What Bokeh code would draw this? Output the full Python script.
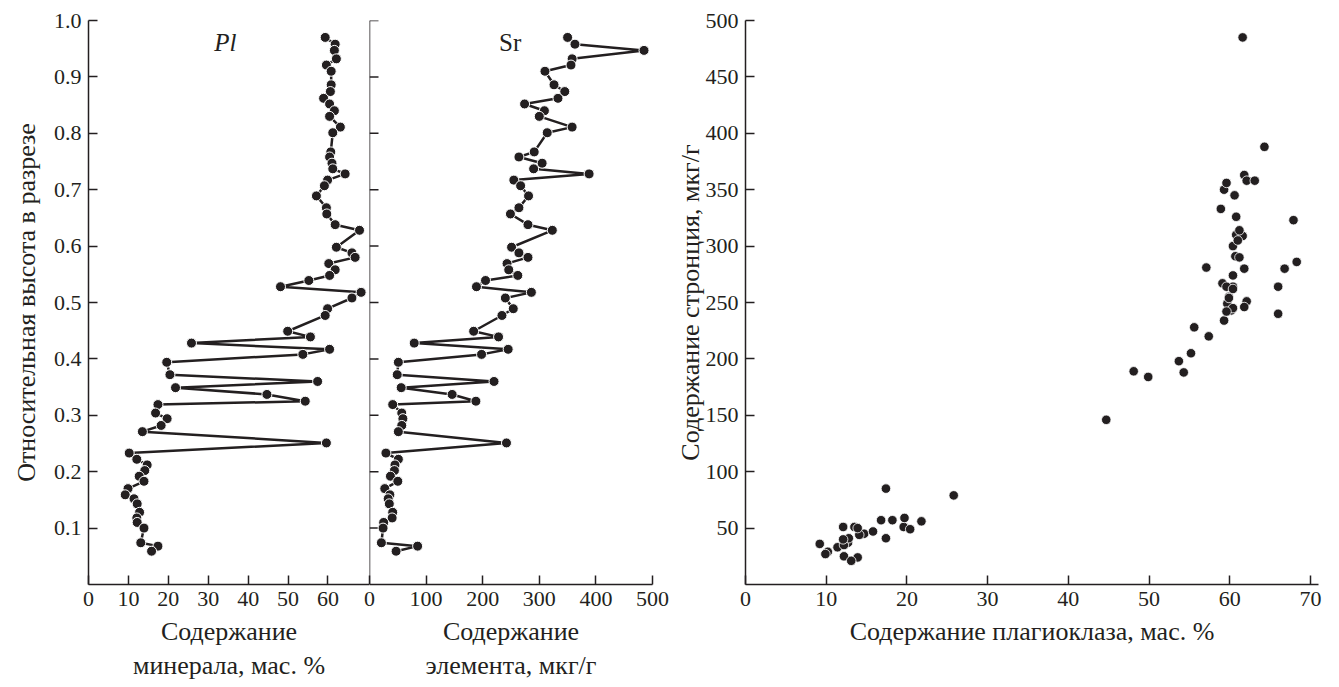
from bokeh.plotting import figure
from bokeh.models import FixedTicker, PrintfTickFormatter, Label, Range1d, Span
from bokeh.layouts import row
from bokeh.embed import file_html
from bokeh.resources import INLINE

# Relative height in section (samples, top to bottom)
heights = [0.970, 0.958, 0.947, 0.932, 0.921, 0.910, 0.886, 0.874, 0.862, 0.852,
           0.840, 0.830, 0.811, 0.801, 0.767, 0.758, 0.747, 0.737, 0.728, 0.717,
           0.707, 0.689, 0.668, 0.657, 0.638, 0.628, 0.598, 0.588, 0.580, 0.569,
           0.558, 0.548, 0.539, 0.528, 0.518, 0.508, 0.489, 0.477, 0.449, 0.439,
           0.428, 0.417, 0.408, 0.394, 0.372, 0.360, 0.349, 0.337, 0.325, 0.319,
           0.304, 0.294, 0.282, 0.271, 0.251, 0.233, 0.222, 0.212, 0.202, 0.192,
           0.183, 0.170, 0.159, 0.152, 0.143, 0.128, 0.118, 0.110, 0.100, 0.074,
           0.068, 0.059]

# Plagioclase content, wt. %
pl = [59.3, 61.8, 61.6, 62.1, 59.6, 60.8, 60.8, 60.6, 58.9, 60.4,
      61.6, 60.4, 63.1, 61.2, 60.7, 60.4, 61.0, 61.2, 64.3, 59.9,
      59.1, 57.1, 59.6, 59.7, 61.8, 67.9, 62.1, 66.0, 66.8, 60.2,
      61.8, 60.4, 55.2, 48.1, 68.3, 66.0, 59.9, 59.3, 49.9, 55.6,
      25.8, 60.4, 53.7, 19.6, 20.4, 57.4, 21.8, 44.7, 54.3, 17.4,
      16.8, 19.7, 18.2, 13.5, 59.6, 10.2, 12.1, 14.7, 14.1, 12.7,
      13.9, 9.9, 9.2, 11.4, 12.2, 12.8, 12.1, 12.2, 13.9, 13.1,
      17.4, 15.8]

# Sr content, ppm
sr = [350, 363, 485, 358, 356, 310, 326, 345, 333, 274,
      309, 300, 358, 314, 291, 264, 305, 290, 388, 255,
      267, 281, 264, 249, 280, 323, 251, 264, 280, 243,
      246, 262, 205, 189, 286, 240, 254, 234, 184, 228,
      79, 245, 198, 51, 49, 220, 56, 146, 188, 41,
      57, 59, 57, 51, 242, 29, 51, 45, 44, 37,
      50, 27, 36, 33, 35, 41, 40, 25, 24, 21,
      85, 47]

height_ticks = [0.1, 0.2, 0.3, 0.4, 0.5, 0.6, 0.7, 0.8, 0.9, 1.0]
pl_ticks = [0, 10, 20, 30, 40, 50, 60]
sr_ticks = [0, 100, 200, 300, 400, 500]
sc_x_ticks = [0, 10, 20, 30, 40, 50, 60, 70]
sc_y_ticks = [50, 100, 150, 200, 250, 300, 350, 400, 450, 500]

FONT = "Liberation Serif"
INK = "#231f20"
TICK_FS = "22px"
LABEL_FS = "26px"


def style_axis(ax):
    ax.axis_line_color = INK
    ax.axis_line_width = 1.5
    ax.major_tick_line_color = INK
    ax.major_tick_line_width = 1.5
    ax.major_tick_in = 9
    ax.major_tick_out = 0
    ax.minor_tick_line_color = None
    ax.major_label_text_font = FONT
    ax.major_label_text_font_size = TICK_FS
    ax.major_label_text_color = INK
    ax.major_label_standoff = 7
    ax.axis_label_text_font = FONT
    ax.axis_label_text_font_size = LABEL_FS
    ax.axis_label_text_font_style = "normal"
    ax.axis_label_text_color = INK
    ax.axis_label_standoff = 8


def base(width, x_range, y_range, left, right, y_axis=True):
    p = figure(width=width, height=687, x_range=x_range, y_range=y_range,
               output_backend="svg", toolbar_location=None,
               y_axis_location="left" if y_axis else None,
               min_border_left=left, min_border_right=right,
               min_border_top=20, min_border_bottom=103)
    p.outline_line_color = None
    p.grid.visible = False
    p.background_fill_alpha = 0
    p.border_fill_alpha = 0
    for ax in p.axis:
        style_axis(ax)
    return p


# Panel 1: plagioclase profile
p1 = base(369, Range1d(0, 70.4), Range1d(0, 1.0), 88, 0)
p1.line(pl, heights, line_color=INK, line_width=2.5)
p1.scatter(pl, heights, size=10, fill_color=INK, line_color="white", line_width=1)
p1.xaxis.ticker = FixedTicker(ticks=pl_ticks)
p1.yaxis.ticker = FixedTicker(ticks=height_ticks)
p1.yaxis.formatter = PrintfTickFormatter(format="%.1f")
p1.yaxis.axis_label_standoff = 10
p1.xaxis.axis_label = "Содержание\nминерала, мас. %"
p1.yaxis.axis_label = "Относительная высота в разрезе"
p1.add_layout(Label(x=34.3, y=0.961, text="Pl", text_font=FONT, text_font_size="25px",
                    text_font_style="italic", text_color=INK,
                    text_align="center", text_baseline="middle"))

# Panel 2: Sr profile (shares the height scale; its left edge is a bare axis line)
p2 = base(317, Range1d(0, 500), Range1d(0, 1.0), 16, 18, y_axis=False)
p2.margin = (0, 0, 0, -16)
p2.add_layout(Span(location=p2.x_range.start, dimension="height",
                   line_color=INK, line_width=1.5))
p2.ray(x=[p2.x_range.start] * len(height_ticks), y=height_ticks, length=9,
       length_units="screen", angle=0, line_color=INK, line_width=1.5)
p2.line(sr, heights, line_color=INK, line_width=2.5)
p2.scatter(sr, heights, size=10, fill_color=INK, line_color="white", line_width=1)
p2.xaxis.ticker = FixedTicker(ticks=sr_ticks)
p2.xaxis.axis_label = "Содержание\nэлемента, мкг/г"
p2.add_layout(Label(x=248.6, y=0.961, text="Sr", text_font=FONT, text_font_size="25px",
                    text_color=INK, text_align="center", text_baseline="middle"))

# Panel 3: Sr vs plagioclase
p3 = base(669, Range1d(0, 71), Range1d(0, 500), 75, 21)
p3.scatter(pl, sr, size=9.5, fill_color=INK, line_color="white", line_width=0.8)
p3.xaxis.ticker = FixedTicker(ticks=sc_x_ticks)
p3.yaxis.ticker = FixedTicker(ticks=sc_y_ticks)
p3.yaxis.axis_label_standoff = -2
p3.xaxis.axis_label = "Содержание плагиоклаза, мас. %"
p3.yaxis.axis_label = "Содержание стронция, мкг/г"

layout = row(p1, p2, p3)
open("out.html", "w").write(file_html(layout, INLINE))
